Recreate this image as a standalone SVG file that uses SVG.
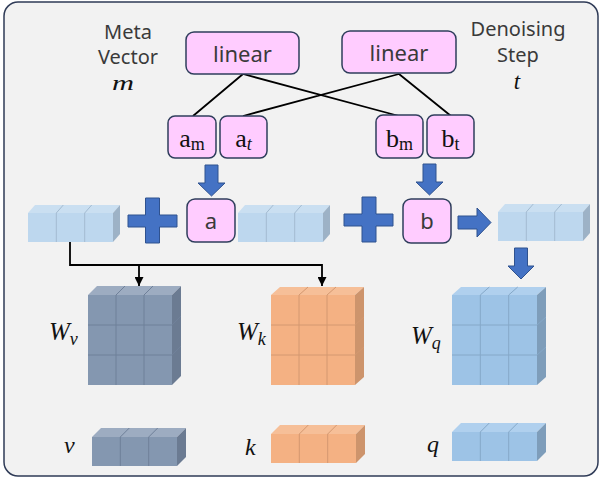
<svg xmlns="http://www.w3.org/2000/svg" width="602" height="481" viewBox="0 0 602 481">
<style>
.sans{font-family:"Noto Sans","Open Sans","Liberation Sans",sans-serif;fill:#3a3a3a}
.math{font-family:"Liberation Serif","DejaVu Serif",serif;fill:#111}
.it{font-style:italic}
.box{fill:#ffccff;stroke:#2f3e5c;stroke-width:1.5}
.blk{fill:#4472c4;stroke:#2f528f;stroke-width:1}
.wire{fill:none;stroke:#000;stroke-width:1.8}
.seam{fill:none;stroke-width:1}
.lb .f{fill:#bdd7ee}.lb .t{fill:#cadff1}.lb .s{fill:#9db2c6}.lb .seam{stroke:#a3bbd1}
.gr .f{fill:#8497b0}.gr .t{fill:#9dacc1}.gr .s{fill:#6b7b92}.gr .seam{stroke:#6f8099}
.or .f{fill:#f4b183}.or .t{fill:#f6bf98}.or .s{fill:#cd946c}.or .seam{stroke:#d49870}
.bl .f{fill:#9dc3e6}.bl .t{fill:#b0d0ee}.bl .s{fill:#7e9dba}.bl .seam{stroke:#85a8c8}
</style>
<defs>
<marker id="ah" markerWidth="9" markerHeight="9" refX="9" refY="4.5" orient="auto" markerUnits="userSpaceOnUse">
<path d="M0,0 L9,4.5 L0,9 z" fill="#000"/>
</marker>
</defs>
<rect id="frame" x="4" y="2" width="594" height="474" rx="14" fill="#f2f2f2" stroke="#2f3b57" stroke-width="1.5"/>

<g id="label-meta">
<text class="sans" x="128" y="39" font-size="20" text-anchor="middle">Meta</text>
<text class="sans" x="128" y="64" font-size="20" text-anchor="middle">Vector</text>
<text class="math it" x="123" y="90" font-size="22" text-anchor="middle" textLength="22" lengthAdjust="spacingAndGlyphs">m</text>
</g>
<g id="label-step">
<text class="sans" x="518" y="36" font-size="20" text-anchor="middle">Denoising</text>
<text class="sans" x="518" y="62" font-size="20" text-anchor="middle">Step</text>
<text class="math it" x="517" y="89" font-size="23" text-anchor="middle">t</text>
</g>

<g id="connectors">
<path class="wire" d="M243,74 L193,116 M243,74 L399,116 M399,74 L243,116 M399,74 L451,116"/>
<path class="wire" d="M70,242 V265 H322 V286" marker-end="url(#ah)"/>
<path class="wire" d="M139,265 V286" marker-end="url(#ah)"/>
<polygon class="blk" points="205,165 218,165 218,183 225,183 211.5,196 198,183 205,183"/>
<polygon class="blk" points="423,164 436,164 436,182 443,182 429.5,195 416,182 423,182"/>
<polygon class="blk" points="458,216 477,216 477,208 491,222.5 477,237 477,229 458,229"/>
<polygon class="blk" points="514.5,248 527.5,248 527.5,266 534,266 521,279 508,266 514.5,266"/>
</g>

<g id="linear-m">
<rect class="box" x="186" y="32" width="113" height="42" rx="8"/>
<text class="sans" x="242.5" y="62" font-size="22" text-anchor="middle">linear</text>
</g>
<g id="linear-t">
<rect class="box" x="342" y="31" width="114" height="42" rx="8"/>
<text class="sans" x="399" y="61" font-size="22" text-anchor="middle">linear</text>
</g>

<g id="am">
<rect class="box" x="168" y="116" width="48" height="42" rx="7"/>
<text class="math" x="192" y="147" font-size="26" text-anchor="middle">a<tspan font-size="18" dy="3">m</tspan></text>
</g>
<g id="at">
<rect class="box" x="220" y="116" width="47" height="42" rx="7"/>
<text class="math" x="243.5" y="147" font-size="26" text-anchor="middle">a<tspan class="it" font-size="18" dy="3">t</tspan></text>
</g>
<g id="bm">
<rect class="box" x="376" y="115" width="47" height="43" rx="7"/>
<text class="math" x="399.5" y="147" font-size="26" text-anchor="middle">b<tspan font-size="18" dy="3">m</tspan></text>
</g>
<g id="bt">
<rect class="box" x="427" y="115" width="47" height="43" rx="7"/>
<text class="math" x="450.5" y="147" font-size="26" text-anchor="middle">b<tspan font-size="18" dy="3">t</tspan></text>
</g>

<g id="a">
<rect class="box" x="187" y="199" width="48" height="43" rx="8"/>
<text class="sans" x="211" y="229" font-size="22" text-anchor="middle">a</text>
</g>
<g id="b">
<rect class="box" x="403" y="199" width="48" height="44" rx="8"/>
<text class="sans" x="427" y="229" font-size="22" text-anchor="middle">b</text>
</g>

<g id="plus1">
<path class="blk" d="M145.5,198 H159.5 V215 H177 V227 H159.5 V243 H145.5 V227 H128 V215 H145.5 Z"/>
</g>
<g id="plus2">
<path class="blk" d="M362,197 H376 V214 H393 V226 H376 V242 H362 V226 H344 V214 H362 Z"/>
</g>

<g id="input-vec" class="lb" transform="translate(28,213)">
<polygon class="t" points="0,0 7,-8 92,-8 85,0"/><polygon class="s" points="85,0 92,-8 92,21 85,29"/><rect class="f" x="0" y="0" width="85" height="29"/>
<path class="seam" d="M28.3,0V29M56.7,0V29M28.3,0l7,-8M56.7,0l7,-8"/>
</g>
<g id="vec-a" class="lb" transform="translate(238,213)">
<polygon class="t" points="0,0 7,-8 92,-8 85,0"/><polygon class="s" points="85,0 92,-8 92,21 85,29"/><rect class="f" x="0" y="0" width="85" height="29"/>
<path class="seam" d="M28.3,0V29M56.7,0V29M28.3,0l7,-8M56.7,0l7,-8"/>
</g>
<g id="vec-out" class="lb" transform="translate(498,212)">
<polygon class="t" points="0,0 7,-8 92,-8 85,0"/><polygon class="s" points="85,0 92,-8 92,21 85,29"/><rect class="f" x="0" y="0" width="85" height="29"/>
<path class="seam" d="M28.3,0V29M56.7,0V29M28.3,0l7,-8M56.7,0l7,-8"/>
</g>

<g id="Wv">
<text class="math it" x="49" y="340" font-size="25">W<tspan font-size="18" dy="5">v</tspan></text>
<g class="gr" transform="translate(88,295)">
<polygon class="t" points="0,0 9,-9 93,-9 84,0"/><polygon class="s" points="84,0 93,-9 93,81 84,90"/><rect class="f" x="0" y="0" width="84" height="90"/>
<path class="seam" d="M28,0V90M56,0V90M0,30H84M0,60H84M28,0l9,-9M56,0l9,-9M84,30l9,-9M84,60l9,-9"/>
</g>
</g>
<g id="Wk">
<text class="math it" x="237" y="340" font-size="25">W<tspan font-size="18" dy="5">k</tspan></text>
<g class="or" transform="translate(271,295)">
<polygon class="t" points="0,0 9,-8 93,-8 84,0"/><polygon class="s" points="84,0 93,-8 93,82 84,90"/><rect class="f" x="0" y="0" width="84" height="90"/>
<path class="seam" d="M28,0V90M56,0V90M0,30H84M0,60H84M28,0l9,-8M56,0l9,-8M84,30l9,-8M84,60l9,-8"/>
</g>
</g>
<g id="Wq">
<text class="math it" x="411" y="344" font-size="25">W<tspan font-size="18" dy="5">q</tspan></text>
<g class="bl" transform="translate(452,295)">
<polygon class="t" points="0,0 9,-8 94,-8 85,0"/><polygon class="s" points="85,0 94,-8 94,82 85,90"/><rect class="f" x="0" y="0" width="85" height="90"/>
<path class="seam" d="M28.3,0V90M56.7,0V90M0,30H85M0,60H85M28.3,0l9,-8M56.7,0l9,-8M85,30l9,-8M85,60l9,-8"/>
</g>
</g>

<g id="v">
<text class="math it" x="64" y="453" font-size="24">v</text>
<g class="gr" transform="translate(92,437)">
<polygon class="t" points="0,0 9,-9 94,-9 85,0"/><polygon class="s" points="85,0 94,-9 94,20 85,29"/><rect class="f" x="0" y="0" width="85" height="29"/>
<path class="seam" d="M28.3,0V29M56.7,0V29M28.3,0l9,-9M56.7,0l9,-9"/>
</g>
</g>
<g id="k">
<text class="math it" x="245" y="455" font-size="24">k</text>
<g class="or" transform="translate(271,434)">
<polygon class="t" points="0,0 9,-9 94,-9 85,0"/><polygon class="s" points="85,0 94,-9 94,20 85,29"/><rect class="f" x="0" y="0" width="85" height="29"/>
<path class="seam" d="M28.3,0V29M56.7,0V29M28.3,0l9,-9M56.7,0l9,-9"/>
</g>
</g>
<g id="q">
<text class="math it" x="427" y="452" font-size="24">q</text>
<g class="bl" transform="translate(452,432)">
<polygon class="t" points="0,0 9,-9 94,-9 85,0"/><polygon class="s" points="85,0 94,-9 94,20 85,29"/><rect class="f" x="0" y="0" width="85" height="29"/>
<path class="seam" d="M28.3,0V29M56.7,0V29M28.3,0l9,-9M56.7,0l9,-9"/>
</g>
</g>
</svg>
